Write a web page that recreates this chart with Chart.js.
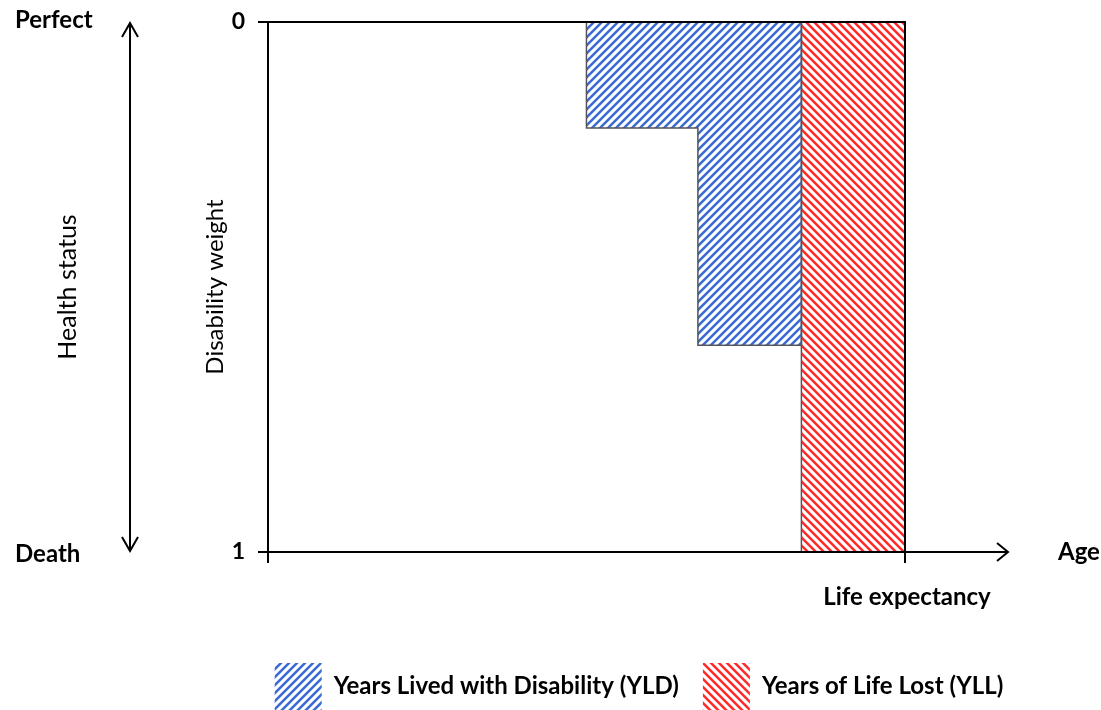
<!DOCTYPE html>
<html>
<head>
<meta charset="utf-8">
<script src="https://cdn.jsdelivr.net/npm/chart.js@4.4.1/dist/chart.umd.min.js"></script>
<style>
  html, body { margin: 0; padding: 0; background: #fff; }
  #wrap { width: 1101px; height: 710px; position: relative; }
</style>
</head>
<body>
<div id="wrap"><canvas id="c" width="1101" height="710"></canvas></div>
<script>
// ---- data ----
const yldStartAges = [40, 54];        // ages at which each disability level starts
const yldWeights = [0.2, 0.61];       // disability weight for each level
const deathAge = 67;                  // premature death
const lifeExpectancy = 80;            // life expectancy
const axisMaxAge = 93.2;              // end of the age arrow
const weightTicks = [0, 1];
const seriesLabels = ['Years Lived with Disability (YLD)', 'Years of Life Lost (YLL)'];

// ---- build polygons from data ----
const yldPoints = [{ x: yldStartAges[0], y: 0 }];
yldStartAges.forEach((a, i) => {
  const end = i + 1 < yldStartAges.length ? yldStartAges[i + 1] : deathAge;
  yldPoints.push({ x: a, y: yldWeights[i] });
  yldPoints.push({ x: end, y: yldWeights[i] });
});
yldPoints.push({ x: deathAge, y: 0 });

const yllPoints = [
  { x: deathAge, y: 0 }, { x: deathAge, y: 1 },
  { x: lifeExpectancy, y: 1 }, { x: lifeExpectancy, y: 0 }
];

function makeHatch(color, forward) {
  const s = 8;
  const c = document.createElement('canvas');
  c.width = s; c.height = s;
  const g = c.getContext('2d');
  g.strokeStyle = color;
  g.lineWidth = 2.5;
  g.beginPath();
  if (forward) {
    g.moveTo(0, s); g.lineTo(s, 0);
    g.moveTo(-2, 2); g.lineTo(2, -2);
    g.moveTo(s - 2, s + 2); g.lineTo(s + 2, s - 2);
  } else {
    g.moveTo(0, 0); g.lineTo(s, s);
    g.moveTo(-2, s - 2); g.lineTo(2, s + 2);
    g.moveTo(s - 2, -2); g.lineTo(s + 2, 2);
  }
  g.stroke();
  return document.getElementById('c').getContext('2d').createPattern(c, 'repeat');
}
const bluePat = makeHatch('#3a6bd4', true);
const redPat = makeHatch('#ff2b2b', false);

Chart.defaults.font.family = 'Lato';

const decor = {
  id: 'decor',
  afterDatasetsDraw(chart) {
    const ctx = chart.ctx;
    const xs = chart.scales.x, ys = chart.scales.y;
    const L = Math.round(xs.getPixelForValue(0));
    const R = Math.round(xs.getPixelForValue(lifeExpectancy));
    const T = Math.round(ys.getPixelForValue(0));
    const B = Math.round(ys.getPixelForValue(1));
    const E = Math.round(xs.getPixelForValue(axisMaxAge)) - 2;
    ctx.save();
    ctx.strokeStyle = '#000';
    ctx.lineWidth = 2;
    ctx.lineCap = 'butt';
    ctx.beginPath();
    ctx.moveTo(L - 10, T); ctx.lineTo(R + 1, T);
    ctx.moveTo(R, T); ctx.lineTo(R, B + 11);
    ctx.moveTo(L - 10, B); ctx.lineTo(E, B);
    ctx.moveTo(L, B); ctx.lineTo(L, B + 11);
    ctx.stroke();
    // age arrow head
    ctx.beginPath();
    ctx.moveTo(E - 11, B - 9); ctx.lineTo(E, B); ctx.lineTo(E - 11, B + 9);
    ctx.stroke();
    // health status double arrow
    const ax = 130;
    ctx.beginPath();
    ctx.moveTo(ax, T + 2); ctx.lineTo(ax, B - 2);
    ctx.moveTo(ax - 8, T + 15); ctx.lineTo(ax, T + 1); ctx.lineTo(ax + 8, T + 15);
    ctx.moveTo(ax - 8, B - 15); ctx.lineTo(ax, B - 1); ctx.lineTo(ax + 8, B - 15);
    ctx.stroke();

    ctx.fillStyle = '#000';
    ctx.font = 'bold 24px Lato';
    ctx.textBaseline = 'alphabetic';
    ctx.textAlign = 'left';
    ctx.fillText('Perfect', 15, T + 6);
    ctx.fillText('Death', 15, B + 10);
    ctx.fillText('Age', 1058, B + 8);
    ctx.textAlign = 'center';
    ctx.fillText('Life expectancy', R + 2, B + 53);
    // Health status (rotated)
    ctx.font = '25px Lato';
    ctx.translate(76, (T + B) / 2);
    ctx.rotate(-Math.PI / 2);
    ctx.textAlign = 'center';
    ctx.fillText('Health status', 0, 0);
    ctx.restore();
  }
};

new Chart(document.getElementById('c'), {
  type: 'line',
  data: {
    datasets: [
      {
        label: seriesLabels[0],
        data: yldPoints,
        backgroundColor: bluePat,
        borderColor: '#555',
        borderWidth: 1.5,
        fill: 'origin',
        pointRadius: 0,
        tension: 0
      },
      {
        label: seriesLabels[1],
        data: yllPoints,
        backgroundColor: redPat,
        borderColor: '#555',
        borderWidth: 1.5,
        fill: 'origin',
        pointRadius: 0,
        tension: 0
      }
    ]
  },
  options: {
    responsive: false,
    animation: false,
    events: [],
    layout: { padding: { left: 201, right: 91, top: 22, bottom: -10 } },
    scales: {
      x: {
        type: 'linear',
        min: 0,
        max: axisMaxAge,
        ticks: { display: false },
        grid: { display: false },
        border: { display: false },
        afterFit(s) { s.height = 111; }
      },
      y: {
        type: 'linear',
        reverse: true,
        min: 0,
        max: 1,
        afterBuildTicks(s) { s.ticks = weightTicks.map(v => ({ value: v })); },
        afterFit(s) { s.width = 67; },
        ticks: {
          color: '#000',
          padding: 13,
          font: { size: 23, weight: 'bold', lineHeight: 0.5 },
          callback: v => String(v)
        },
        grid: {
          drawOnChartArea: false,
          drawTicks: true,
          tickLength: 10,
          color: '#000',
          lineWidth: 2
        },
        border: { display: true, color: '#000', width: 2 },
        title: {
          display: true,
          text: 'Disability weight',
          color: '#000',
          padding: 0,
          font: { size: 24, weight: 'normal' }
        }
      }
    },
    plugins: {
      tooltip: { enabled: false },
      legend: {
        position: 'bottom',
        fullSize: false,
        labels: {
          color: '#000',
          boxWidth: 47,
          boxHeight: 47,
          padding: 0,
          font: { size: 24, weight: 'bold' },
          generateLabels(chart) {
            const items = Chart.defaults.plugins.legend.labels.generateLabels(chart);
            return items.map((l, i) => Object.assign(l, {
              lineWidth: 0,
              strokeStyle: 'rgba(0,0,0,0)',
              text: i < items.length - 1 ? l.text + '\u2003\u2005' : l.text
            }));
          }
        }
      }
    }
  },
  plugins: [decor]
});
</script>
</body>
</html>
